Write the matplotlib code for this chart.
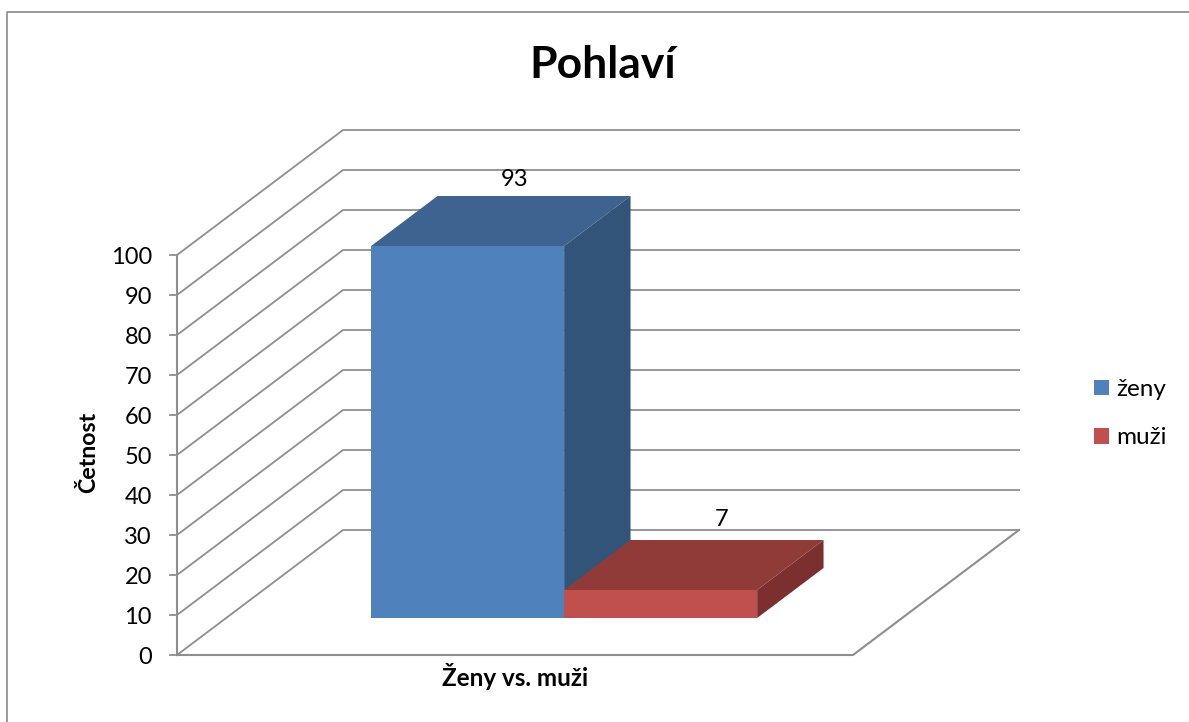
import matplotlib
matplotlib.use("Agg")
import matplotlib.pyplot as plt
from matplotlib.patches import Polygon

plt.rcParams['font.family'] = ['Lato', 'DejaVu Sans']

series_names = ["ženy", "muži"]
series_values = [93, 7]
y_ticks = list(range(0, 101, 10))
title = "Pohlaví"
x_title = "Ženy vs. muži"
y_title = "Četnost"

front_colors = ["#4F81BD", "#C0504D"]
top_colors = ["#3E6390", "#913B39"]
side_colors = ["#325479", "#7B302F"]
grid_color = "#8E8E8E"

# oblique projection of the Excel 3D box, all in image pixels
X0, X1 = 177, 853
Y0 = 655
PX_PER_UNIT = 4.0
DX, DY = 166, 125
BAR_W = 193 / 676
GAP = (1 - BAR_W * len(series_values)) / 2
D_FRONT, D_BACK = 0.296, 0.696


def proj(x, value, depth=0.0):
    return (X0 + x * (X1 - X0) + depth * DX, Y0 - value * PX_PER_UNIT - depth * DY)


fig = plt.figure(figsize=(11.89, 7.22), dpi=100)
ax = fig.add_axes([0, 0, 1, 1])
ax.set_xlim(0, 1189)
ax.set_ylim(722, 0)
ax.axis("off")

# chart frame, only the left and top edges are inside the picture
ax.plot([7, 7, 1189], [722, 12, 12], color="#8A8A8A", lw=1.2, zorder=1)

# walls + gridlines
for v in y_ticks:
    pts = [proj(0, v), proj(0, v, 1), proj(1, v, 1)]
    ax.plot([p[0] for p in pts], [p[1] for p in pts], color=grid_color, lw=1.3, zorder=2)
    tick = proj(0, v)
    ax.plot([tick[0] - 7, tick[0]], [tick[1], tick[1]], color=grid_color, lw=1.3, zorder=2)
    ax.text(tick[0] - 25, tick[1] + 2.5, str(v), ha="right", va="center", fontsize=17, zorder=5)

bottom = [proj(0, 0), proj(1, 0), proj(1, 0, 1)]
ax.plot([p[0] for p in bottom], [p[1] for p in bottom], color=grid_color, lw=1.5, zorder=2)
wall = [proj(0, 0), proj(0, 100)]
ax.plot([p[0] for p in wall], [p[1] for p in wall], color=grid_color, lw=1.5, zorder=2)

# bars
handles = []
label_shift = [(47, -17), (61, -20)]
for i, val in enumerate(series_values):
    xa = GAP + i * BAR_W
    xb = xa + BAR_W
    front = Polygon([proj(xa, 0, D_FRONT), proj(xb, 0, D_FRONT), proj(xb, val, D_FRONT), proj(xa, val, D_FRONT)],
                    closed=True, fc=front_colors[i], ec="none", zorder=4, label=series_names[i])
    top = Polygon([proj(xa, val, D_FRONT), proj(xb, val, D_FRONT), proj(xb, val, D_BACK), proj(xa, val, D_BACK)],
                  closed=True, fc=top_colors[i], ec="none", zorder=3)
    side = Polygon([proj(xb, 0, D_FRONT), proj(xb, val, D_FRONT), proj(xb, val, D_BACK), proj(xb, 0, D_BACK)],
                   closed=True, fc=side_colors[i], ec="none", zorder=3)
    ax.add_patch(side)
    ax.add_patch(top)
    ax.add_patch(front)
    handles.append(front)
    ly = proj((xa + xb) / 2, val, D_BACK)[1]
    lx0 = proj((xa + xb) / 2, val, D_FRONT)[0]
    ax.text(lx0 + label_shift[i][0], ly + label_shift[i][1], str(val), ha="center", va="center",
            fontsize=17, zorder=6)

ax.text(603, 65, title, ha="center", va="center", fontsize=32, fontweight="bold")
ax.text(515, 676, x_title, ha="center", va="center", fontsize=17.5, fontweight="bold")
ax.text(89, 452, y_title, ha="center", va="center", rotation=90, fontsize=16.7, fontweight="bold")

ax.legend(handles=handles, loc="upper left", bbox_to_anchor=(1094 / 1189, 1 - 379 / 722), frameon=False,
          fontsize=17.5, handlelength=0.62, handleheight=0.62, handletextpad=0.29,
          labelspacing=1.12, borderpad=0, borderaxespad=0)

fig.savefig("out.png", dpi=100)
